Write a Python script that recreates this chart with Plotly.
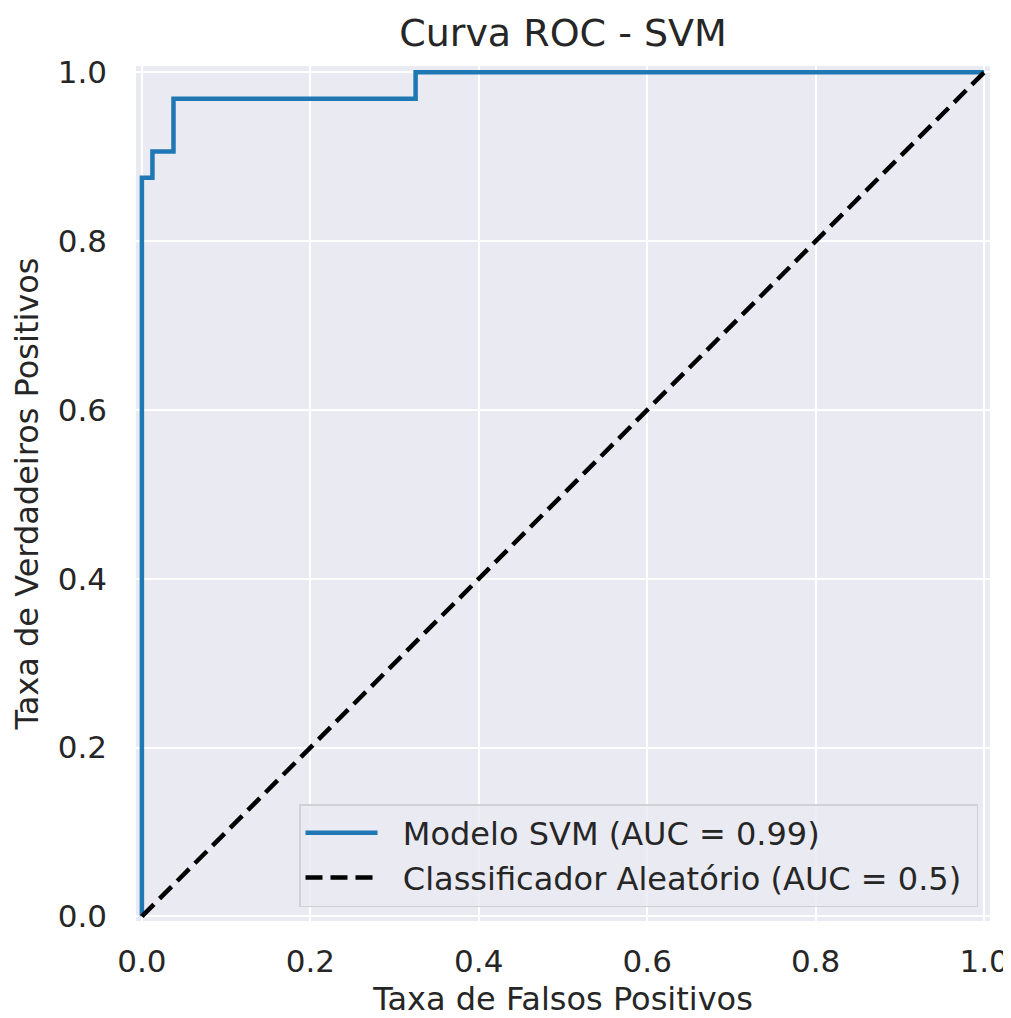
import plotly.graph_objects as go

# ROC curve points
fpr = [0.0, 0.0, 0.0125, 0.0125, 0.0375, 0.0375, 0.325, 0.325, 1.0]
tpr = [0.0, 0.875, 0.875, 0.90625, 0.90625, 0.96875, 0.96875, 1.0, 1.0]
diag_x = [0.0, 1.0]
diag_y = [0.0, 1.0]

tick_vals = [0.0, 0.2, 0.4, 0.6, 0.8, 1.0]
tick_text = ["0.0", "0.2", "0.4", "0.6", "0.8", "1.0"]

label_model = "Modelo SVM (AUC = 0.99)"
label_random = "Classificador Aleatório (AUC = 0.5)"

FONT = "DejaVu Sans"
TXT = "#262626"
NB = "\u00a0"

# page has an 8px body margin; figure sized/placed to compensate
W, H = 1003, 1010
L, T = 128, 58
PW, PH = 854, 855

fig = go.Figure()
fig.add_trace(go.Scatter(x=fpr, y=tpr, mode="lines", name=NB * 2 + label_model,
                         line=dict(color="#1f77b4", width=4.5)))
fig.add_trace(go.Scatter(x=diag_x, y=diag_y, mode="lines", name=NB * 2 + label_random + NB,
                         line=dict(color="black", width=4.5, dash="17px,8px")))

axis_common = dict(
    tickvals=tick_vals, ticktext=tick_text,
    showgrid=True, gridcolor="white", gridwidth=2,
    zeroline=False, showline=False, automargin=False,
    ticks="", tickfont=dict(family=FONT, size=31, color=TXT),
)

fig.update_layout(
    width=W, height=H,
    margin=dict(l=L, r=W - L - PW, t=T, b=H - T - PH),
    paper_bgcolor="white", plot_bgcolor="#EAEAF2",
    font=dict(family=FONT, color=TXT),
    title=dict(text="Curva ROC - SVM", x=0.5, xref="paper", xanchor="center",
               y=1 - 25 / H, yanchor="middle", yref="container",
               font=dict(family=FONT, size=38, color=TXT)),
    xaxis=dict(range=[-0.007, 1.007], ticklabelstandoff=19,
               title=dict(text="Taxa de Falsos Positivos", standoff=15,
                          font=dict(family=FONT, size=32, color=TXT)),
               **axis_common),
    yaxis=dict(range=[-0.0055, 1.0075], ticklabelstandoff=28,
               title=dict(text="Taxa de Verdadeiros Positivos", standoff=10,
                          font=dict(family=FONT, size=32, color=TXT)),
               **axis_common),
    showlegend=True,
    legend=dict(x=(970 - L) / PW, y=14 / PH,
                xanchor="right", yanchor="bottom",
                bgcolor="rgba(234,234,242,0.8)", bordercolor="#D0D0D6", borderwidth=1.5,
                font=dict(family=FONT, size=32, color=TXT),
                itemwidth=72, tracegroupgap=0),
)

fig.write_html("out.html")
